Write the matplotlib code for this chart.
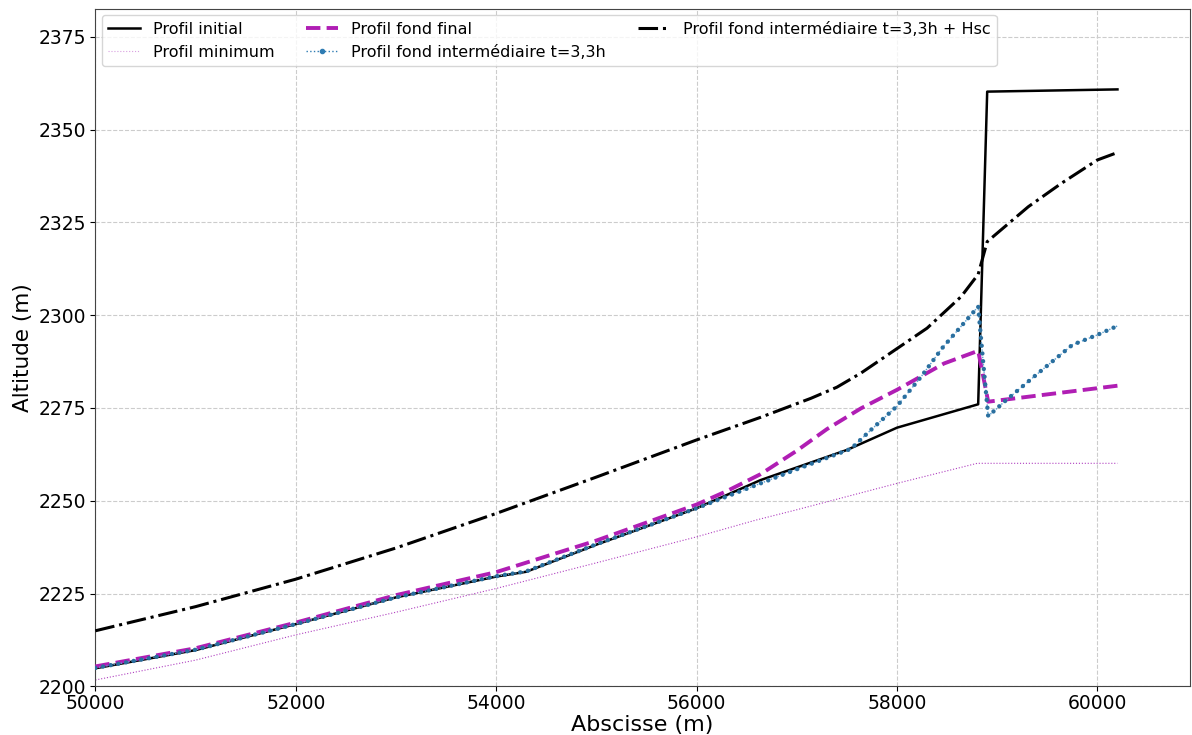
#!/usr/bin/env python
"""Profils en long : initial, minimum, final, intermediaire."""

from matplotlib import pyplot as plt
from matplotlib.lines import Line2D

# Profil initial
x_init = [50000, 51000, 52000, 53000, 54000, 54300, 55000, 56000, 56640,
          57500, 58000, 58810, 58900, 60200]
z_init = [2204.9, 2209.8, 2216.8, 2224.0, 2229.6, 2230.9, 2238.2, 2248.0,
          2255.6, 2263.7, 2269.7, 2276.0, 2360.2, 2360.8]

# Profil minimum
x_min = [50000, 51000, 52000, 53000, 54000, 55000, 56000, 56590, 57000,
         58000, 58800, 60200]
z_min = [2201.75, 2207.1, 2213.9, 2220.0, 2226.4, 2233.3, 2240.3, 2244.8,
         2247.6, 2254.7, 2260.1, 2260.1]

# Profil fond final
x_fin = [50000, 51000, 52000, 53000, 54000, 55000, 56000, 56300, 56640,
         57000, 57300, 57640, 58000, 58470, 58810, 58910, 60200]
z_fin = [2205.4, 2210.3, 2217.2, 2224.6, 2230.8, 2239.3, 2249.0, 2252.6,
         2257.2, 2263.5, 2269.3, 2274.9, 2279.9, 2287.0, 2290.4, 2276.7,
         2281.0]

# Profil fond intermediaire t=3,3h
x_int = [50000, 51000, 52000, 53000, 54000, 54300, 55000, 56000, 57000,
         57540, 57740, 58000, 58240, 58450, 58810, 58850, 58910, 59080,
         59410, 59750, 60000, 60200]
z_int = [2205.0, 2209.9, 2216.8, 2224.0, 2229.7, 2231.0, 2238.3, 2248.0,
         2258.5, 2264.0, 2269.1, 2275.5, 2283.4, 2291.1, 2302.3, 2290.2,
         2272.8, 2276.9, 2284.4, 2292.0, 2294.7, 2297.1]

# Profil fond intermediaire t=3,3h + Hsc
x_hsc = [50000, 51000, 52000, 53000, 54000, 55000, 56000, 56640, 57140,
         57400, 57640, 58000, 58300, 58640, 58810, 58900, 59310, 59640,
         60000, 60200]
z_hsc = [2215.0, 2221.5, 2228.9, 2237.3, 2246.6, 2256.4, 2266.4, 2272.5,
         2277.6, 2280.6, 2284.4, 2291.0, 2296.5, 2305.0, 2311.0, 2319.8,
         2329.2, 2335.5, 2341.8, 2343.8]

blue = '#2f7cb3'
purple = '#b01eb4'

fig = plt.figure(figsize=(11.92, 7.35), dpi=100)
ax = fig.add_axes([0.080, 0.066, 0.918, 0.922])

ax.plot(x_min, z_min, ':', color='#b040c0', lw=0.8, zorder=2)
ax.plot(x_init, z_init, '-', color='k', lw=1.8, zorder=3)
ax.plot(x_fin, z_fin, '--', color=purple, lw=2.8, zorder=4)
ax.plot(x_int, z_int, ':', color='#5a9fd0', lw=1.0, zorder=5)
# points of the intermediate profile, drawn as round dots along the line
ax.plot(x_int, z_int, color='#2a6f9f', lw=3.2, ls=(0, (0.001, 1.75)),
        dash_capstyle='round', zorder=5)
ax.plot(x_hsc, z_hsc, '-.', color='k', lw=2.2, zorder=3)

ax.set_xlim(50000, 60920)
ax.set_ylim(2200, 2382.5)
ax.set_xticks([50000, 52000, 54000, 56000, 58000, 60000])
ax.set_yticks([2200, 2225, 2250, 2275, 2300, 2325, 2350, 2375])
ax.tick_params(labelsize=13.5)
ax.tick_params(axis='x', pad=2)
ax.grid(True, ls='--', color='#cccccc', lw=0.8)
ax.set_xlabel('Abscisse (m)', fontsize=16, labelpad=1)
ax.set_ylabel('Altitude (m)', fontsize=15.5, labelpad=4)
for s in ax.spines.values():
    s.set_color('#444444')

handles = [
    Line2D([], [], color='k', lw=1.8),
    Line2D([], [], color='#d9a0e0', lw=0.8, ls=':'),
    Line2D([], [], color=purple, lw=2.8, ls='--'),
    Line2D([], [], color=blue, lw=1.0, ls=':', marker='o', ms=3),
    Line2D([], [], color='k', lw=2.2, ls='-.'),
]
labels = ['Profil initial', 'Profil minimum', 'Profil fond final',
          'Profil fond intermédiaire t=3,3h',
          'Profil fond intermédiaire t=3,3h + Hsc']
ax.legend(handles, labels, loc='upper left', ncol=3, fontsize=11.5,
          columnspacing=2.0, borderaxespad=0.4)

fig.savefig('out.png', dpi=100)
